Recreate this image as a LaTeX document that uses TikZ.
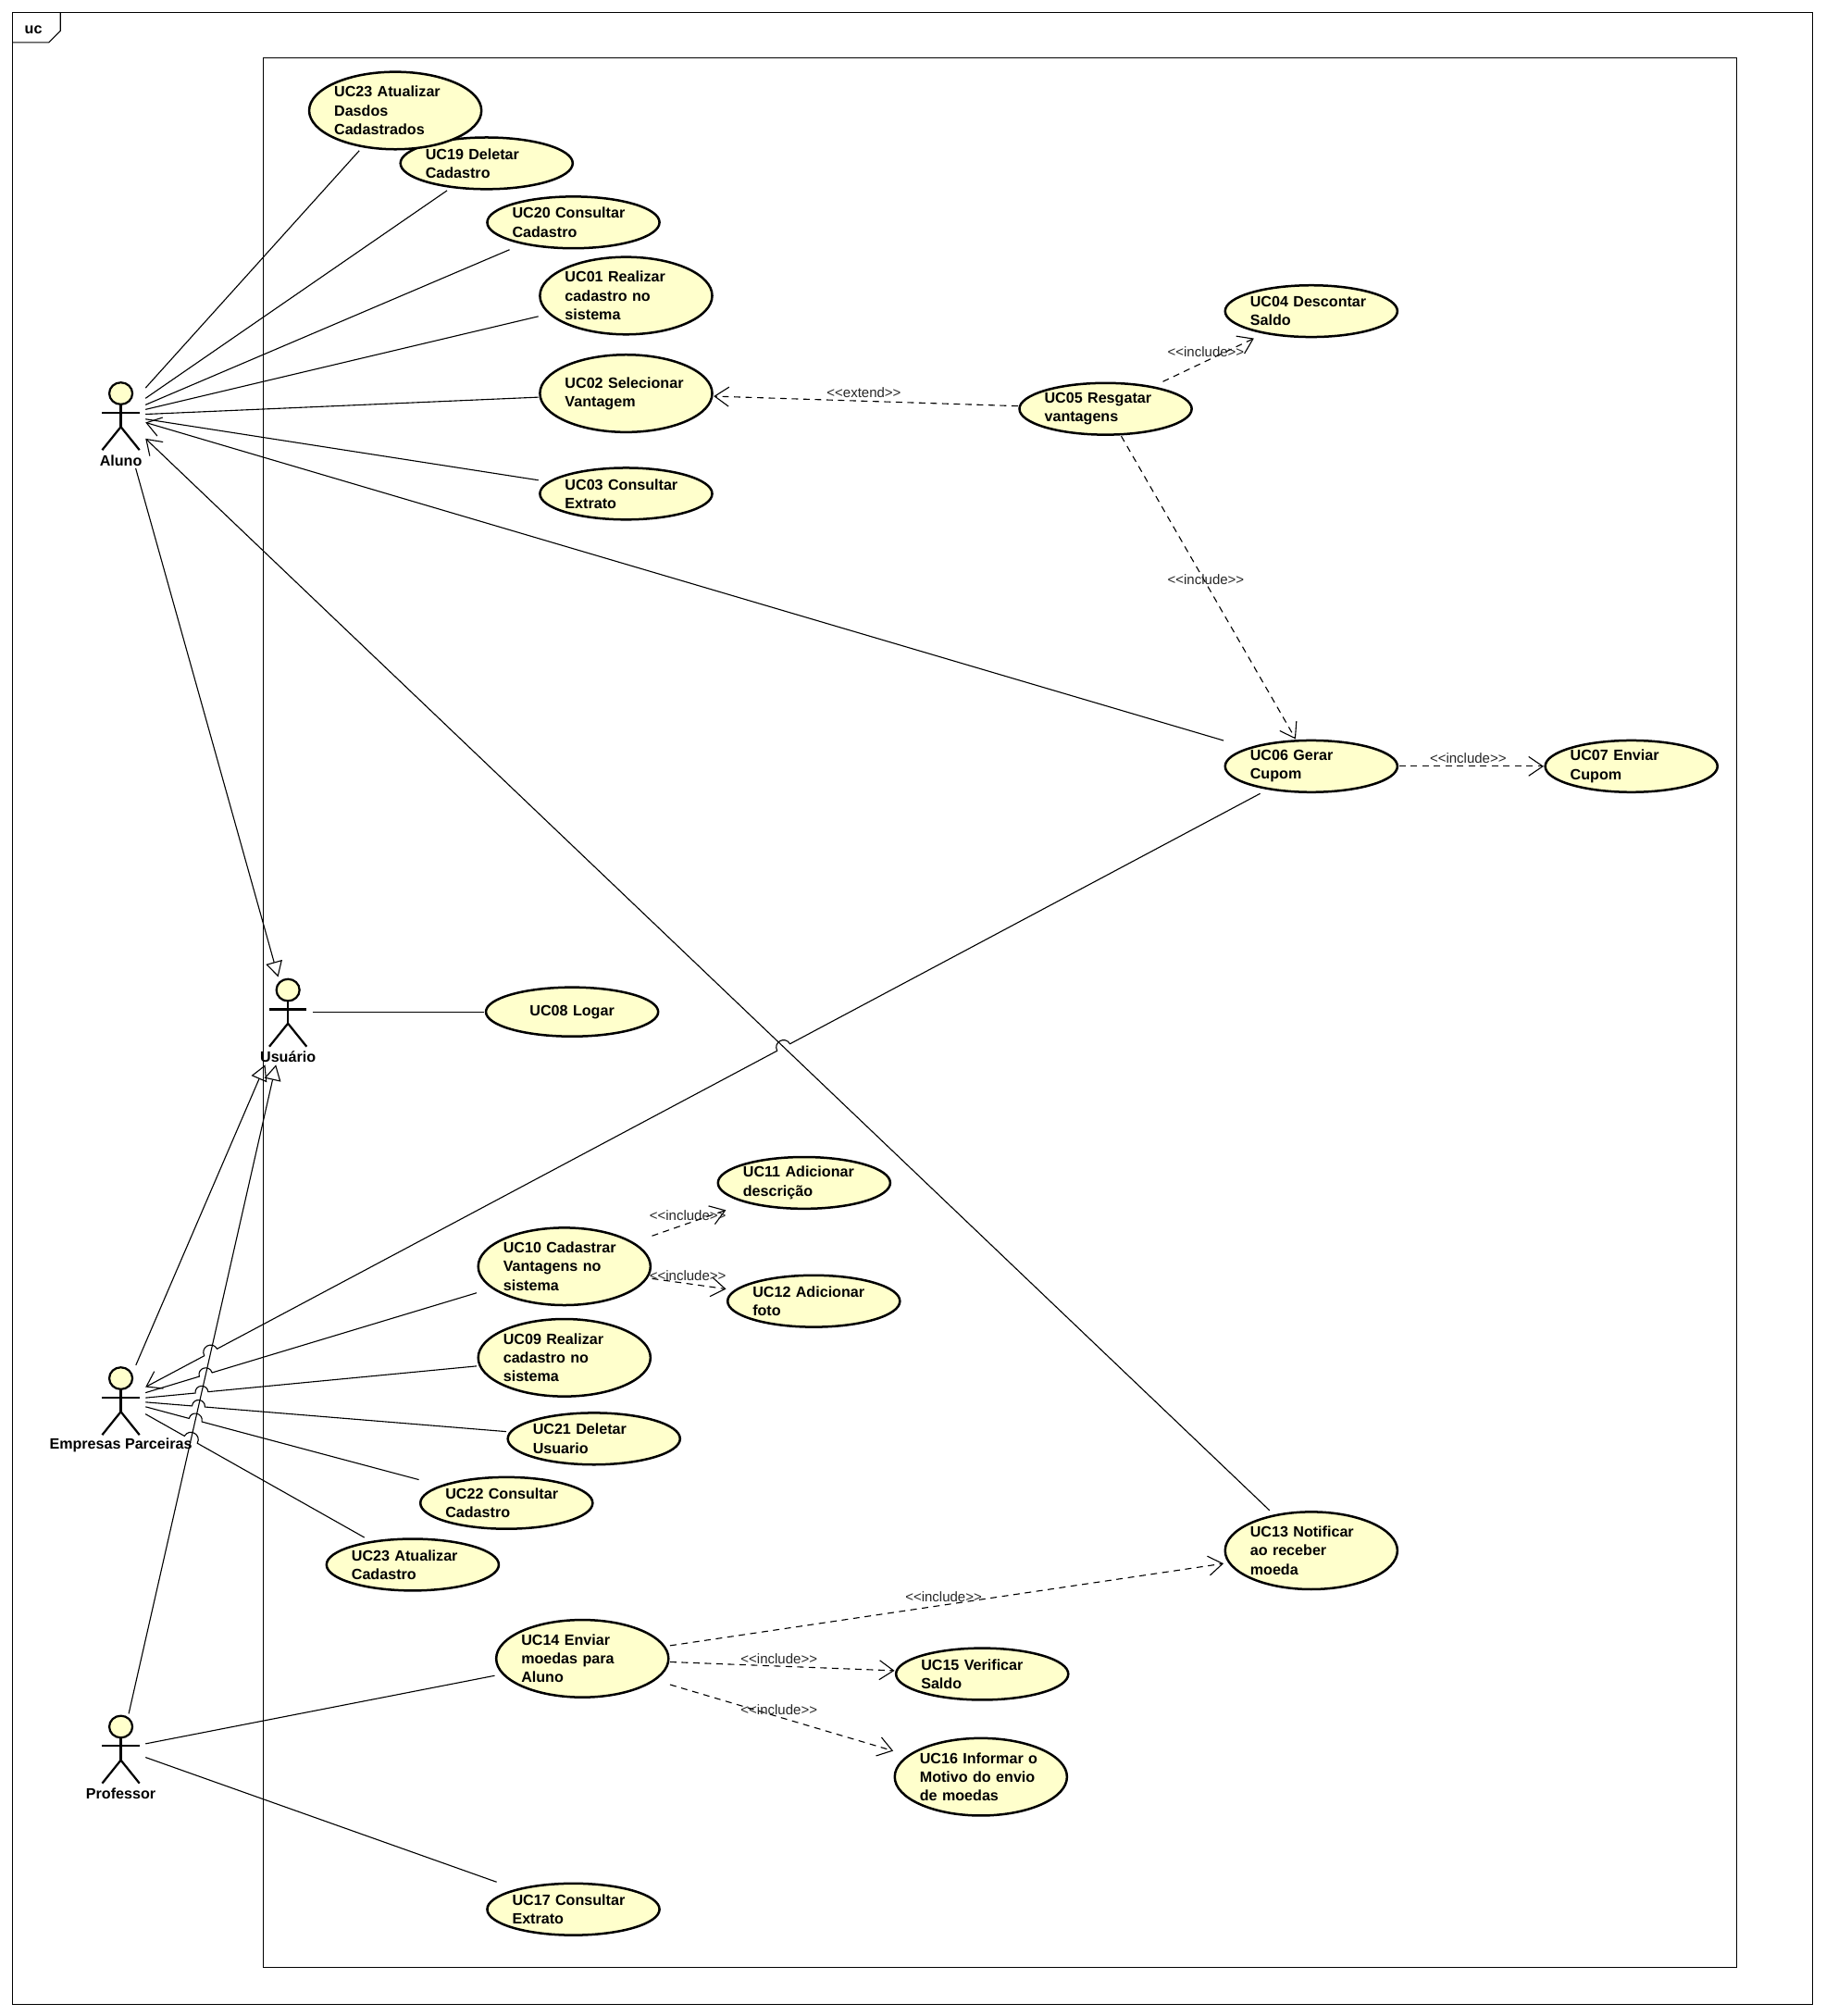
\documentclass[tikz,border=0pt]{standalone}
\usepackage{fontspec}
\setmainfont{Liberation Sans}
\usetikzlibrary{arrows.meta, shapes.geometric}
\definecolor{ucyellow}{RGB}{255,255,204}
\tikzset{
	usecase/.style={
		rectangle,
		inner sep=0pt,
		minimum width=136pt,
		minimum height=#1,
		text width=95pt,
		align=left,
		font=\fontsize{11.6}{14.6}\selectfont\bfseries,
		path picture={
			\draw[fill=ucyellow, line width=1.8pt] (path picture bounding box.center) ellipse [x radius=67pt, y radius={0.5*#1-0.9}];
		}
	},
	usecase/.default=42pt,
	actorbox/.style={
		rectangle,
		inner sep=0pt,
		minimum width=38pt,
		minimum height=82pt
	},
	actorhead/.style={
		draw,
		ellipse,
		fill=ucyellow,
		line width=1.6pt,
		inner sep=0pt,
		minimum width=18pt,
		minimum height=17pt
	},
	actorlabel/.style={
		inner sep=0pt,
		font=\fontsize{11.6}{14.6}\selectfont\bfseries
	},
	stickman/.pic={
		\node(-box) at (0,0) [actorbox] {};
		\node(-head) at (0,-17) [actorhead] {};
		\draw[line width=1.6pt] (-head) -- (0,9);
		\draw[line width=1.6pt] (-14.5,-2) -- (14.5,-2);
		\draw[line width=1.6pt] (-14.5,27) -- (0,9) -- (14.5,27);
		\node(-label) at (0,35) [actorlabel] {\tikzpictext};
	},
	stereo/.style={
		inner sep=0pt,
		text=black!85,
		font=\fontsize{10.8}{12}\selectfont
	},
	assoc/.style={line width=0.8pt},
	assocto/.style={assoc, -{Straight Barb[length=11pt, width=15pt]}},
	dep/.style={line width=0.8pt, dashed, dash pattern=on 5pt off 4pt, -{Straight Barb[length=11pt, width=15pt]}},
	gener/.style={line width=0.8pt, -{Triangle[open, length=12pt, width=13pt]}},
	hop/.style={bend left=88, looseness=1.7},
	hopback/.style={bend right=88, looseness=1.7}
}

\begin{document}
\begin{tikzpicture}[x=1pt, y=-1pt]
		\useasboundingbox (0,0) rectangle (1420,1568);
		
		\draw[line width=0.8pt] (10,10) rectangle (1410,1559);
		\draw[line width=0.8pt] (10,33) -- (38,33) -- (47,24) -- (47,10);
		\node(frame_name) at (26,23) [actorlabel] {uc};
		\draw[line width=0.8pt] (205,45) rectangle (1351,1530);
		
		\node(uc19) at (378.5,127) [usecase] {UC19 Deletar\\Cadastro};
		\node(uc23) at (307.5,86) [usecase=62pt] {UC23 Atualizar\\Dasdos\\Cadastrados};
		\node(uc20) at (446,173) [usecase] {UC20 Consultar\\Cadastro};
		\node(uc01) at (487,230) [usecase=62pt] {UC01 Realizar\\cadastro no\\sistema};
		\node(uc02) at (487,306) [usecase=62pt] {UC02 Selecionar\\Vantagem};
		\node(uc03) at (487,384) [usecase] {UC03 Consultar\\Extrato};
		\node(uc04) at (1020,242) [usecase] {UC04 Descontar\\Saldo};
		\node(uc05) at (860,318) [usecase] {UC05 Resgatar\\vantagens};
		\node(uc06) at (1020,596) [usecase] {UC06 Gerar\\Cupom};
		\node(uc07) at (1269,596) [usecase] {UC07 Enviar\\Cupom};
		\node(uc08) at (445,787) [usecase=40pt, align=center] {UC08 Logar};
		\node(uc11) at (625.5,920) [usecase] {UC11 Adicionar\\descrição};
		\node(uc12) at (633,1012) [usecase] {UC12 Adicionar\\foto};
		\node(uc10) at (439,985) [usecase=62pt] {UC10 Cadastrar\\Vantagens no\\sistema};
		\node(uc09) at (439,1056) [usecase=62pt] {UC09 Realizar\\cadastro no\\sistema};
		\node(uc21) at (462,1119) [usecase] {UC21 Deletar\\Usuario};
		\node(uc22) at (394,1169) [usecase] {UC22 Consultar\\Cadastro};
		\node(uc23b) at (321,1217) [usecase] {UC23 Atualizar\\Cadastro};
		\node(uc13) at (1020,1206) [usecase=62pt] {UC13 Notificar\\ao receber\\moeda};
		\node(uc14) at (453,1290) [usecase=62pt] {UC14 Enviar\\moedas para\\Aluno};
		\node(uc15) at (764,1302) [usecase] {UC15 Verificar\\Saldo};
		\node(uc16) at (763,1382) [usecase=62pt] {UC16 Informar o\\Motivo do envio\\de moedas};
		\node(uc17) at (446,1485) [usecase] {UC17 Consultar\\Extrato};
		
		\pic(aluno) at (94,323) [pic text=Aluno] {stickman};
		\pic(usuario) at (224,787) [pic text=Usuário] {stickman};
		\pic(empresas) at (94,1089) [pic text=Empresas Parceiras] {stickman};
		\pic(professor) at (94,1360) [pic text=Professor] {stickman};
		
		\coordinate(j06a) at (158.9,1054.5);
		\coordinate(j06b) at (168.9,1049.1);
		\coordinate(j06c) at (604.5,817.3);
		\coordinate(j06d) at (614.5,811.9);
		\coordinate(j10a) at (155,1070.6);
		\coordinate(j10b) at (165,1067.6);
		\coordinate(j09a) at (151.9,1083.5);
		\coordinate(j09b) at (161.9,1082.5);
		\coordinate(j21a) at (149.4,1093.5);
		\coordinate(j21b) at (159.4,1094.3);
		\coordinate(j22a) at (147,1103.2);
		\coordinate(j22b) at (157,1105.8);
		\coordinate(j23a) at (143.5,1116.9);
		\coordinate(j23b) at (153.5,1122.5);
		
		\draw[assoc] (aluno-box) -- (uc23);
		\draw[assoc] (aluno-box) -- (uc19);
		\draw[assoc] (aluno-box) -- (uc20);
		\draw[assoc] (aluno-box) -- (uc01);
		\draw[assoc] (aluno-box) -- (uc02);
		\draw[assoc] (aluno-box) -- (uc03);
		\draw[assocto] (uc06) -- (aluno-box);
		\draw[assocto] (uc13) -- (aluno-box);
		
		\draw[assoc] (usuario-box) -- (uc08);
		\draw[gener, shorten >=-14.6pt] (aluno-box) -- (usuario-box);
		\draw[gener, shorten <=-15.2pt] (empresas-box) -- (usuario-box);
		\draw[gener, shorten <=-14.4pt] (professor-box) -- (usuario-box);
		
		\draw[assocto] (uc06) -- (j06d) to[hopback] (j06c) -- (j06b) to[hopback] (j06a) -- (empresas-box);
		\draw[assoc] (empresas-box) -- (j10a) to[hop] (j10b) -- (uc10);
		\draw[assoc] (empresas-box) -- (j09a) to[hop] (j09b) -- (uc09);
		\draw[assoc] (empresas-box) -- (j21a) to[hop] (j21b) -- (uc21);
		\draw[assoc] (empresas-box) -- (j22a) to[hop] (j22b) -- (uc22);
		\draw[assoc] (empresas-box) -- (j23a) to[hop] (j23b) -- (uc23b);
		
		\draw[assoc] (professor-box) -- (uc14);
		\draw[assoc] (professor-box) -- (uc17);
		
		\draw[dep] (uc05) -- (uc02);
		\draw[dep] (uc05) -- (uc04);
		\draw[dep] (uc05) -- (uc06);
		\draw[dep] (uc06) -- (uc07);
		\draw[dep] (uc10) -- (uc11);
		\draw[dep] (uc10) -- (uc12);
		\draw[dep] (uc14) -- (uc13);
		\draw[dep] (uc14) -- (uc15);
		\draw[dep] (uc14) -- (uc16);
		
		\node(lb_extend) at (672,305) [stereo] {<{}<extend>{}>};
		\node(lb_uc04) at (938,274) [stereo] {<{}<include>{}>};
		\node(lb_uc06) at (938,451) [stereo] {<{}<include>{}>};
		\node(lb_uc07) at (1142,590) [stereo] {<{}<include>{}>};
		\node(lb_uc11) at (535,945) [stereo] {<{}<include>{}>};
		\node(lb_uc12) at (535,992) [stereo] {<{}<include>{}>};
		\node(lb_uc13) at (734,1242) [stereo] {<{}<include>{}>};
		\node(lb_uc15) at (606,1290) [stereo] {<{}<include>{}>};
		\node(lb_uc16) at (606,1330) [stereo] {<{}<include>{}>};
		\end{tikzpicture}
\end{document}
